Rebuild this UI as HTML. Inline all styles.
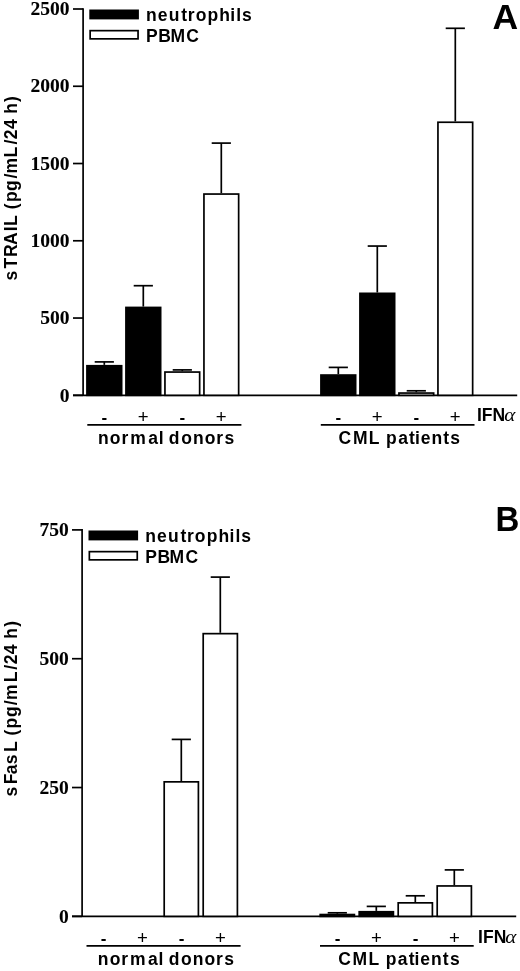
<!DOCTYPE html>
<html><head><meta charset="utf-8"><style>
html,body{margin:0;padding:0;background:#fff;}
svg{display:block;filter:grayscale(1);}
line{stroke:#000;stroke-width:1.7;}
rect{stroke:#000;stroke-width:1.7;}
text{fill:#000;}
.tl{font-family:"Liberation Serif",serif;font-weight:bold;font-size:19.5px;text-anchor:end;stroke:#000;stroke-width:0.1px;}
.lg{font-family:"Liberation Sans",sans-serif;font-weight:bold;font-size:17.5px;letter-spacing:1.1px;}
.yl{font-family:"Liberation Sans",sans-serif;font-weight:bold;font-size:17.5px;letter-spacing:0.75px;}
.big{font-family:"Liberation Sans",sans-serif;font-weight:bold;font-size:35.5px;}
.pl{font-family:"Liberation Sans",sans-serif;font-size:18.6px;text-anchor:middle;}
.mn{font-family:"Liberation Sans",sans-serif;font-weight:bold;font-size:17px;text-anchor:middle;}
.al{font-family:"Liberation Serif",serif;font-style:italic;font-weight:normal;font-size:18px;}
</style></head><body>
<svg width="520" height="971" viewBox="0 0 520 971">
<line x1="83.1" y1="8.15" x2="83.1" y2="395.30"/>
<line x1="73" y1="395.30" x2="517.2" y2="395.30"/>
<line x1="73" y1="395.30" x2="83.1" y2="395.30"/>
<line x1="73" y1="318.04" x2="83.1" y2="318.04"/>
<line x1="73" y1="240.78" x2="83.1" y2="240.78"/>
<line x1="73" y1="163.52" x2="83.1" y2="163.52"/>
<line x1="73" y1="86.26" x2="83.1" y2="86.26"/>
<line x1="73" y1="9.00" x2="83.1" y2="9.00"/>
<text class="tl" x="69.6" y="401.50">0</text>
<text class="tl" x="69.6" y="324.24">500</text>
<text class="tl" x="69.6" y="246.98">1000</text>
<text class="tl" x="69.6" y="169.72">1500</text>
<text class="tl" x="69.6" y="92.46">2000</text>
<text class="tl" x="69.6" y="15.20">2500</text>
<rect x="86.95" y="365.75" width="34.70" height="29.55" fill="#000"/>
<line x1="104.30" y1="364.90" x2="104.30" y2="361.90"/>
<line x1="94.70" y1="361.90" x2="113.90" y2="361.90"/>
<rect x="125.95" y="307.45" width="34.70" height="87.85" fill="#000"/>
<line x1="143.30" y1="306.60" x2="143.30" y2="285.70"/>
<line x1="133.70" y1="285.70" x2="152.90" y2="285.70"/>
<rect x="164.95" y="372.05" width="34.70" height="23.25" fill="#fff"/>
<line x1="182.30" y1="371.20" x2="182.30" y2="369.90"/>
<line x1="172.70" y1="369.90" x2="191.90" y2="369.90"/>
<rect x="203.95" y="194.05" width="34.70" height="201.25" fill="#fff"/>
<line x1="221.30" y1="193.20" x2="221.30" y2="143.10"/>
<line x1="211.70" y1="143.10" x2="230.90" y2="143.10"/>
<rect x="320.95" y="375.05" width="34.70" height="20.25" fill="#000"/>
<line x1="338.30" y1="374.20" x2="338.30" y2="367.40"/>
<line x1="328.70" y1="367.40" x2="347.90" y2="367.40"/>
<rect x="359.95" y="293.35" width="34.70" height="101.95" fill="#000"/>
<line x1="377.30" y1="292.50" x2="377.30" y2="246.05"/>
<line x1="367.70" y1="246.05" x2="386.90" y2="246.05"/>
<rect x="398.95" y="393.05" width="34.70" height="2.25" fill="#fff"/>
<line x1="416.30" y1="392.20" x2="416.30" y2="390.80"/>
<line x1="406.70" y1="390.80" x2="425.90" y2="390.80"/>
<rect x="437.95" y="122.25" width="34.70" height="273.05" fill="#fff"/>
<line x1="455.30" y1="121.40" x2="455.30" y2="28.30"/>
<line x1="445.70" y1="28.30" x2="464.90" y2="28.30"/>
<rect x="90.14999999999999" y="10.35" width="47.9" height="8.200000000000001" fill="#000"/>
<rect x="90.14999999999999" y="30.650000000000002" width="47.9" height="8.200000000000001" fill="#fff"/>
<text id="ne0" class="lg" x="146.00 157.78 168.81 181.31 187.73 195.63 207.48 219.23 230.21 236.18 241.93" y="20.90" style="letter-spacing:0">neutrophils</text>
<text id="pb0" class="lg" x="146.10 158.32 170.40 186.34" y="41.60" style="letter-spacing:0">PBMC</text>
<text class="mn" x="104.30" y="422.6">-</text>
<text class="pl" x="143.30" y="422.6">+</text>
<text class="mn" x="182.30" y="422.6">-</text>
<text class="pl" x="221.30" y="422.6">+</text>
<text class="mn" x="338.30" y="422.6">-</text>
<text class="pl" x="377.30" y="422.6">+</text>
<text class="mn" x="416.30" y="422.6">-</text>
<text class="pl" x="455.30" y="422.6">+</text>
<text class="lg" x="477.0" y="421.2" style="letter-spacing:0">IFN</text><text class="al" transform="translate(504.2,421.2) scale(1.17,1)">α</text>
<line x1="87.3" y1="424.9" x2="241.4" y2="424.9"/>
<line x1="320.8" y1="424.9" x2="474.5" y2="424.9"/>
<text id="nd0" class="lg" x="98.00 109.87 121.54 130.22 148.16 158.68 163.62 168.86 181.23 192.99 204.76 216.23 224.53" y="443.80" style="letter-spacing:0">normal donors</text>
<text id="cm0" class="lg" x="338.60 352.93 368.81 379.48 386.04 398.14 409.07 414.99 420.66 431.39 443.18 450.31" y="443.80" style="letter-spacing:0">CML patients</text>
<g transform="translate(17.40,280.00) rotate(-90)"><text id="yl0" class="yl" x="-0.45 11.62 23.12 35.00 48.79 54.05 65.42 70.78 77.91 89.06 101.50 106.51 122.57 135.46 140.77 150.95 160.44 166.15 178.08" y="0.00" style="letter-spacing:0">sTRAIL (pg/mL/24 h)</text></g>
<text class="big" transform="translate(492.6,29.2) scale(1.0,1)">A</text>
<line x1="82.1" y1="529.05" x2="82.1" y2="916.35"/>
<line x1="72.0" y1="916.35" x2="516.2" y2="916.35"/>
<line x1="72.0" y1="916.35" x2="82.1" y2="916.35"/>
<line x1="72.0" y1="787.53" x2="82.1" y2="787.53"/>
<line x1="72.0" y1="658.72" x2="82.1" y2="658.72"/>
<line x1="72.0" y1="529.90" x2="82.1" y2="529.90"/>
<text class="tl" x="68.8" y="922.55">0</text>
<text class="tl" x="68.8" y="793.73">250</text>
<text class="tl" x="68.8" y="664.92">500</text>
<text class="tl" x="68.8" y="536.10">750</text>
<rect x="164.20" y="781.85" width="34.20" height="134.50" fill="#fff"/>
<line x1="181.30" y1="781.00" x2="181.30" y2="739.40"/>
<line x1="171.70" y1="739.40" x2="190.90" y2="739.40"/>
<rect x="203.20" y="633.65" width="34.20" height="282.70" fill="#fff"/>
<line x1="220.30" y1="632.80" x2="220.30" y2="577.10"/>
<line x1="210.70" y1="577.10" x2="229.90" y2="577.10"/>
<rect x="320.20" y="914.55" width="34.20" height="1.80" fill="#000"/>
<line x1="337.30" y1="913.70" x2="337.30" y2="912.80"/>
<line x1="327.70" y1="912.80" x2="346.90" y2="912.80"/>
<rect x="359.20" y="911.75" width="34.20" height="4.60" fill="#000"/>
<line x1="376.30" y1="910.90" x2="376.30" y2="906.40"/>
<line x1="366.70" y1="906.40" x2="385.90" y2="906.40"/>
<rect x="398.20" y="902.85" width="34.20" height="13.50" fill="#fff"/>
<line x1="415.30" y1="902.00" x2="415.30" y2="895.80"/>
<line x1="405.70" y1="895.80" x2="424.90" y2="895.80"/>
<rect x="437.20" y="885.95" width="34.20" height="30.40" fill="#fff"/>
<line x1="454.30" y1="885.10" x2="454.30" y2="869.90"/>
<line x1="444.70" y1="869.90" x2="463.90" y2="869.90"/>
<rect x="89.35" y="531.35" width="47.9" height="8.200000000000001" fill="#000"/>
<rect x="89.35" y="551.65" width="47.9" height="8.200000000000001" fill="#fff"/>
<text id="ne521" class="lg" x="145.20 156.98 168.01 180.51 186.93 194.83 206.68 218.43 229.41 235.38 241.13" y="541.90" style="letter-spacing:0">neutrophils</text>
<text id="pb521" class="lg" x="145.30 157.52 169.60 185.54" y="562.60" style="letter-spacing:0">PBMC</text>
<text class="mn" x="103.50" y="943.6">-</text>
<text class="pl" x="142.50" y="943.6">+</text>
<text class="mn" x="181.50" y="943.6">-</text>
<text class="pl" x="220.50" y="943.6">+</text>
<text class="mn" x="337.50" y="943.6">-</text>
<text class="pl" x="376.50" y="943.6">+</text>
<text class="mn" x="415.50" y="943.6">-</text>
<text class="pl" x="454.50" y="943.6">+</text>
<text class="lg" x="478.09999999999997" y="942.7" style="letter-spacing:0">IFN</text><text class="al" transform="translate(505.29999999999995,942.7) scale(1.17,1)">α</text>
<line x1="86.5" y1="945.9" x2="240.6" y2="945.9"/>
<line x1="320.0" y1="945.9" x2="473.7" y2="945.9"/>
<text id="nd521" class="lg" x="97.80 109.67 121.34 130.02 147.96 158.47 163.42 168.66 181.02 192.79 204.56 216.03 224.32" y="965.00" style="letter-spacing:0">normal donors</text>
<text id="cm521" class="lg" x="338.20 352.53 368.41 379.08 385.64 397.74 408.67 414.59 420.26 430.99 442.78 449.91" y="965.00" style="letter-spacing:0">CML patients</text>
<g transform="translate(16.90,796.40) rotate(-90)"><text id="yl521" class="yl" x="0.00 12.07 22.21 32.10 44.39 55.00 60.96 67.84 79.53 91.28 96.44 114.14 126.73 132.09 142.23 152.02 157.58 169.72" y="0.00" style="letter-spacing:0">sFasL (pg/mL/24 h)</text></g>
<text class="big" transform="translate(495.59999999999997,530.9) scale(0.93,1)">B</text>
</svg>
</body></html>
